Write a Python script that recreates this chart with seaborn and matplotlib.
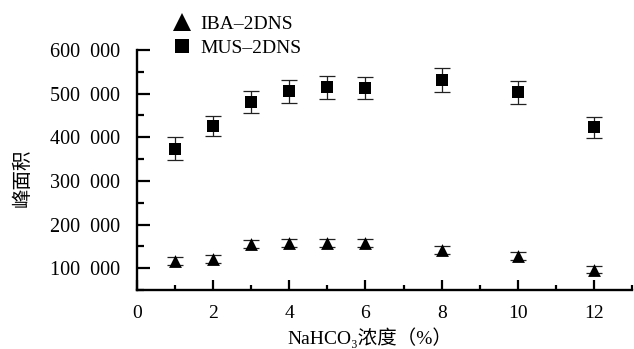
import matplotlib
matplotlib.use("Agg")
import matplotlib.pyplot as plt
import seaborn as sns
import pandas as pd
import numpy as np
from matplotlib.ticker import MultipleLocator, FuncFormatter
from matplotlib.lines import Line2D

conc = [1, 2, 3, 4, 5, 6, 8, 10, 12]
iba = [116000, 122000, 155000, 158000, 158000, 157000, 141000, 128000, 97000]
iba_err = [9000, 9000, 9000, 9000, 9000, 9000, 9000, 9000, 9000]
mus = [374000, 425000, 480000, 505000, 514000, 513000, 531000, 503000, 423000]
mus_err = [26000, 23000, 25000, 26000, 27000, 26000, 28000, 26000, 24000]
series_names = ["IBA–2DNS", "MUS–2DNS"]

sns.set_theme(style="white")
plt.rcParams['font.family'] = ['Liberation Serif', 'Noto Sans CJK SC', 'DejaVu Sans']

df_iba = pd.DataFrame({"x": conc, "y": iba})
df_mus = pd.DataFrame({"x": conc, "y": mus})

fig = plt.figure(figsize=(6.34, 3.49), dpi=100)
ax = fig.add_axes([0.216, 0.169, 0.781, 0.688])

ax.errorbar(conc, iba, yerr=iba_err, fmt='none', ecolor='#222222', elinewidth=0.9, capsize=5.5, capthick=0.9, zorder=1)
ax.errorbar(conc, mus, yerr=mus_err, fmt='none', ecolor='#222222', elinewidth=0.9, capsize=5.5, capthick=0.9, zorder=1)

sns.scatterplot(data=df_iba, x="x", y="y", marker="^", color="black", s=85,
                linewidth=0, ax=ax, zorder=3, legend=False)
sns.scatterplot(data=df_mus, x="x", y="y", marker="s", color="black", s=70,
                linewidth=0, ax=ax, zorder=3, legend=False)

ax.set_xlim(0, 13)
ax.set_ylim(50000, 600000)
ax.xaxis.set_major_locator(MultipleLocator(2))
ax.xaxis.set_minor_locator(MultipleLocator(1))
ax.yaxis.set_major_locator(MultipleLocator(100000))
ax.yaxis.set_minor_locator(MultipleLocator(50000))
ax.yaxis.set_major_formatter(FuncFormatter(lambda v, p: "" if v < 100000 else f"{int(v):,}".replace(",", "  ")))

ax.tick_params(axis='x', which='major', direction='in', length=7, width=1.6, bottom=True,
               labelsize=14, color='black', labelcolor='black', pad=11)
ax.tick_params(axis='x', which='minor', direction='in', length=3.6, width=1.6, bottom=True, color='black')
ax.tick_params(axis='y', which='major', direction='in', length=9, width=1.6, left=True,
               labelsize=14.5, color='black', labelcolor='black', pad=12)
ax.tick_params(axis='y', which='minor', direction='in', length=5, width=1.6, left=True, color='black')

for sp in ['top', 'right']:
    ax.spines[sp].set_visible(False)
for sp in ['left', 'bottom']:
    ax.spines[sp].set_linewidth(1.7)
    ax.spines[sp].set_color('black')

ax.set_xlabel("NaHCO₃浓度（%）", fontsize=14, color='black')
ax.xaxis.set_label_coords(0.47, -0.2)
ax.xaxis.label.set_va('center')
ax.set_ylabel("峰面积", fontsize=14, color='black')
ax.yaxis.set_label_coords(-0.232, 0.467)
ax.yaxis.label.set_va('center')

handles = [
    Line2D([], [], marker='^', color='black', linestyle='none', markersize=12.5, markeredgewidth=0),
    Line2D([], [], marker='s', color='black', linestyle='none', markersize=10.5, markeredgewidth=0),
]
fig.legend(handles, series_names, loc='center left', bbox_to_anchor=(172 / 634, 0.897),
           frameon=False, fontsize=14, handlelength=1.0, handletextpad=0.45,
           labelspacing=0.34, borderpad=0, borderaxespad=0, labelcolor='black')

fig.savefig("out.png", dpi=100)
